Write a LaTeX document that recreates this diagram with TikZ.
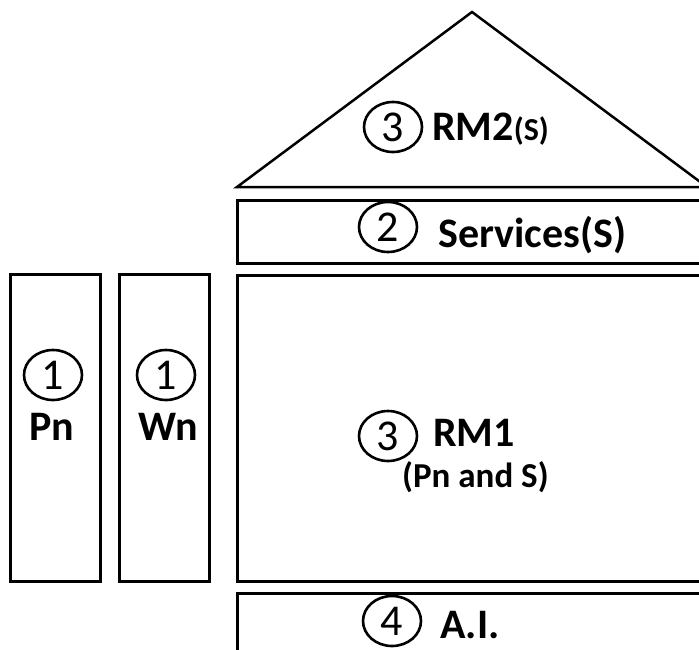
\documentclass[tikz,border=0pt]{standalone}
\usepackage{fontspec}
\setmainfont{Carlito}
\usetikzlibrary{shapes.geometric}
\begin{document}
\begin{tikzpicture}[x=1pt,y=-1pt,
  box/.style={draw=black,line width=3pt},
  lbl/.style={inner sep=0pt,anchor=base west,font=\bfseries\fontsize{42}{46}\selectfont},
  sml/.style={inner sep=0pt,anchor=base west,font=\bfseries\fontsize{35}{40}\selectfont},
  num/.style={draw=black,line width=2.6pt,ellipse,minimum width=58pt,minimum height=50pt,inner sep=0pt,font=\fontsize{44}{48}\selectfont}
]
\useasboundingbox (0,0) rectangle (699,649);
\clip (0,0) rectangle (699,649);
% roof
\draw[line width=2.5pt,line join=miter] (237,187) -- (472,12) -- (707,187) -- cycle;
% services
\draw[box] (237,200) rectangle (720,263);
% RM1
\draw[box] (237,275) rectangle (720,581);
% AI
\draw[box] (237,593) rectangle (720,680);
% Pn, Wn
\draw[box] (10,274) rectangle (100,581);
\draw[box] (119,274) rectangle (209,581);
% labels
\node[num] (c3a) at (393,127) {3};
\node[lbl] (rm2) at (432,140) {RM2\fontsize{32}{36}\selectfont(S)};
\node[num] (c2) at (388,227) {2};
\node[lbl] (serv) at (438,247) {Services(S)};
\node[num] (c3b) at (388,436) {3};
\node[lbl] (rm1) at (433,446) {RM1};
\node[sml] (pns) at (402,487) {(Pn and S)};
\node[num] (c4) at (392,621) {4};
\node[lbl] (ai) at (440,638) {A.I.};
\node[num] (c1a) at (53,375) {1};
\node[lbl,anchor=base] (pn) at (52,440) {Pn};
\node[num] (c1b) at (166,375) {1};
\node[lbl,anchor=base] (wn) at (168,440) {Wn};
\end{tikzpicture}
\end{document}
